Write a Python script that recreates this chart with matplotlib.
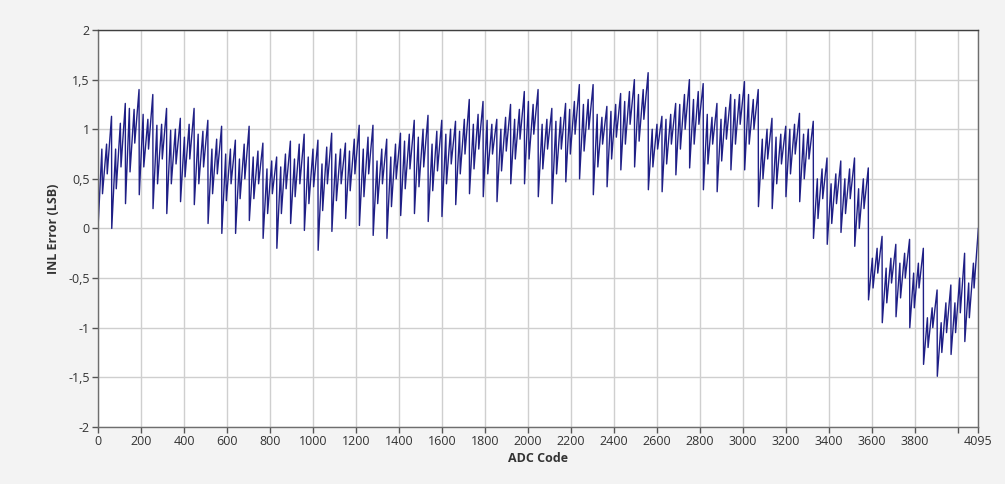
import numpy as np
import matplotlib
matplotlib.use("Agg")
import matplotlib.pyplot as plt
from matplotlib.ticker import FixedLocator, FuncFormatter

# INL error per 64-code tooth
# each tooth: value after the drop, two ripples (hi/lo), value before the next drop
tooth_low = [0.00, 0.00, 0.25, 0.34, 0.20, 0.15, 0.27, 0.24,
             0.05, -0.05, -0.05, 0.08, -0.10, -0.20, 0.05, -0.02,
             -0.22, -0.03, 0.10, 0.03, -0.07, -0.10, 0.13, 0.15,
             0.07, 0.12, 0.24, 0.35, 0.32, 0.27, 0.45, 0.45,
             0.32, 0.25, 0.47, 0.50, 0.34, 0.42, 0.59, 0.62,
             0.39, 0.37, 0.54, 0.61, 0.39, 0.37, 0.59, 0.59,
             0.22, 0.20, 0.32, 0.27, -0.10, -0.16, -0.04, -0.18,
             -0.72, -0.95, -0.89, -1.00, -1.37, -1.49, -1.27, -1.14]
ripple1_hi = [0.80, 0.80, 1.21, 1.15, 1.04, 0.99, 0.92, 0.95,
              0.80, 0.75, 0.70, 0.72, 0.60, 0.62, 0.70, 0.72,
              0.65, 0.75, 0.78, 0.80, 0.68, 0.72, 0.88, 0.92,
              0.85, 0.95, 0.98, 1.05, 1.09, 1.00, 1.10, 1.28,
              1.05, 1.08, 1.20, 1.25, 1.15, 1.18, 1.28, 1.35,
              1.00, 1.10, 1.25, 1.30, 1.15, 1.10, 1.30, 1.35,
              0.90, 0.92, 1.00, 0.95, 0.50, 0.45, 0.50, 0.40,
              -0.30, -0.40, -0.35, -0.45, -0.90, -0.95, -0.75, -0.55]
ripple1_lo = [0.35, 0.40, 0.57, 0.62, 0.45, 0.45, 0.52, 0.45,
              0.35, 0.28, 0.30, 0.30, 0.15, 0.15, 0.32, 0.25,
              0.18, 0.28, 0.38, 0.32, 0.25, 0.22, 0.40, 0.42,
              0.38, 0.45, 0.55, 0.60, 0.55, 0.58, 0.70, 0.70,
              0.60, 0.55, 0.75, 0.78, 0.62, 0.70, 0.85, 0.88,
              0.62, 0.65, 0.80, 0.85, 0.65, 0.68, 0.85, 0.85,
              0.50, 0.45, 0.55, 0.50, 0.10, 0.05, 0.15, 0.00,
              -0.60, -0.75, -0.70, -0.80, -1.20, -1.25, -1.05, -0.90]
ripple2_hi = [0.85, 1.06, 1.20, 1.10, 1.05, 1.00, 1.05, 0.98,
              0.90, 0.80, 0.85, 0.78, 0.68, 0.75, 0.85, 0.80,
              0.82, 0.80, 0.90, 0.92, 0.80, 0.85, 0.95, 1.00,
              0.98, 1.00, 1.10, 1.15, 1.05, 1.12, 1.20, 1.25,
              1.10, 1.12, 1.28, 1.30, 1.12, 1.25, 1.38, 1.40,
              1.05, 1.15, 1.35, 1.38, 1.12, 1.22, 1.35, 1.30,
              1.00, 0.95, 1.05, 1.00, 0.60, 0.55, 0.60, 0.50,
              -0.20, -0.30, -0.25, -0.35, -0.80, -0.75, -0.50, -0.35]
ripple2_lo = [0.55, 0.62, 0.86, 0.80, 0.70, 0.65, 0.70, 0.62,
              0.55, 0.45, 0.50, 0.45, 0.35, 0.40, 0.45, 0.42,
              0.45, 0.45, 0.55, 0.55, 0.45, 0.50, 0.60, 0.62,
              0.58, 0.65, 0.75, 0.80, 0.75, 0.78, 0.90, 0.95,
              0.80, 0.80, 0.95, 1.00, 0.85, 0.92, 1.05, 1.10,
              0.80, 0.85, 1.00, 1.05, 0.85, 0.90, 1.05, 1.00,
              0.70, 0.65, 0.75, 0.70, 0.30, 0.25, 0.30, 0.20,
              -0.45, -0.55, -0.50, -0.60, -1.00, -1.05, -0.85, -0.60]
tooth_high = [1.13, 1.26, 1.40, 1.35, 1.21, 1.11, 1.21, 1.09,
              1.03, 0.89, 1.03, 0.86, 0.72, 0.88, 0.95, 0.89,
              0.96, 0.86, 1.04, 1.04, 0.90, 0.96, 1.09, 1.14,
              1.09, 1.08, 1.30, 1.28, 1.10, 1.25, 1.38, 1.40,
              1.21, 1.26, 1.45, 1.45, 1.23, 1.36, 1.50, 1.57,
              1.13, 1.26, 1.50, 1.46, 1.26, 1.35, 1.48, 1.40,
              1.11, 1.03, 1.16, 1.08, 0.71, 0.68, 0.71, 0.61,
              -0.08, -0.16, -0.11, -0.20, -0.62, -0.57, -0.25, 0.00]

# code offsets inside a tooth where each value sits
tooth_size = 64
offsets = [0, 18, 21, 40, 43, 63]

y_ticks = [-2, -1.5, -1, -0.5, 0, 0.5, 1, 1.5, 2]
x_ticks = list(range(0, 4000, 200)) + [4000, 4095]
x_labels = [str(v) for v in range(0, 4000, 200)] + ["", "4095"]

codes = []
inl = []
for k in range(len(tooth_low)):
    vals = [tooth_low[k], ripple1_hi[k], ripple1_lo[k],
            ripple2_hi[k], ripple2_lo[k], tooth_high[k]]
    for off, v in zip(offsets, vals):
        codes.append(k * tooth_size + off)
        inl.append(v)
codes[-1] = 4095

fig = plt.figure(figsize=(10.05, 4.84), dpi=100, facecolor="#f3f3f3")
ax = fig.add_axes([0.0975, 0.118, 0.876, 0.820])
ax.set_facecolor("white")

ax.plot(codes, inl, color="#1f1f86", linewidth=1.0)

ax.set_xlim(0, 4095)
ax.set_ylim(-2, 2)
ax.xaxis.set_major_locator(FixedLocator(x_ticks))
ax.set_xticklabels(x_labels)
ax.yaxis.set_major_locator(FixedLocator(y_ticks))
ax.yaxis.set_major_formatter(FuncFormatter(lambda v, p: ("%g" % v).replace(".", ",")))

ax.grid(True, color="#cfcfcf", linewidth=1.0)
ax.set_axisbelow(True)
for s in ax.spines.values():
    s.set_color("#6e6e6e")
    s.set_linewidth(1.0)
ax.spines["top"].set_color("#404040")

ax.tick_params(axis="both", direction="out", length=4, width=1, color="#555555",
               labelsize=9, labelcolor="#333333", pad=2)
for lab in ax.get_xticklabels() + ax.get_yticklabels():
    lab.set_family("Open Sans")

ax.set_xlabel("ADC Code", fontsize=9, fontweight="bold", color="#333333",
              family="Open Sans", labelpad=3)
ax.set_ylabel("INL Error (LSB)", fontsize=9, fontweight="bold", color="#333333",
              family="Open Sans", labelpad=6)

fig.savefig("out.png", dpi=100, facecolor=fig.get_facecolor())
